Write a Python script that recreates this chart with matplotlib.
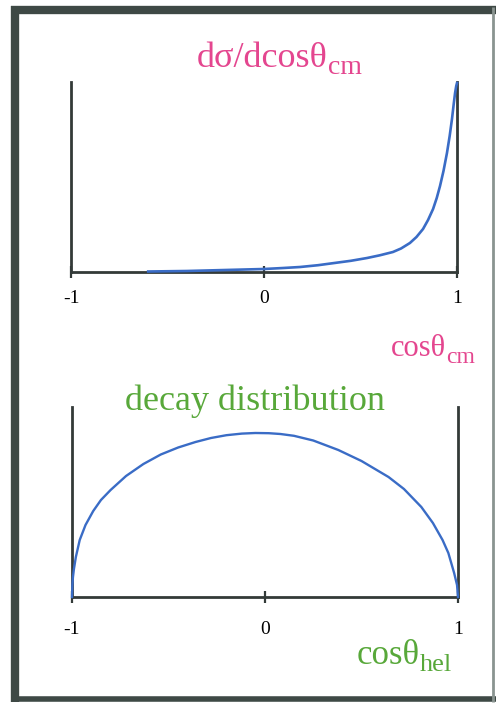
import matplotlib.pyplot as plt
from matplotlib.lines import Line2D

plt.rcParams['font.family'] = ['Liberation Serif', 'DejaVu Serif']

# production angle: forward peaked cross section (arbitrary units)
cm_x = [-0.6, -0.4, -0.2, 0.0, 0.1, 0.187, 0.28, 0.357, 0.45, 0.534, 0.60,
        0.668, 0.71, 0.756, 0.79, 0.824, 0.85, 0.876, 0.895, 0.912, 0.93,
        0.948, 0.962, 0.974, 0.983, 0.990, 0.996, 1.0]
cm_y = [0.5, 1.0, 2.0, 3.0, 4.0, 5.0, 6.8, 8.8, 11.2, 14.0, 16.7,
        20.0, 23.5, 29.0, 35.0, 43.0, 52.0, 63.0, 74.0, 86.0, 101.0,
        119.0, 136.0, 153.0, 168.0, 179.0, 186.0, 189.0]

# helicity angle: decay distribution (arbitrary units)
hel_x = [-1.0, -0.998, -0.995, -0.99, -0.98, -0.96, -0.93, -0.89, -0.85,
         -0.80, -0.72, -0.63, -0.54, -0.45, -0.36, -0.28, -0.20, -0.12,
         -0.05, 0.02, 0.08, 0.15, 0.25, 0.38, 0.50, 0.64, 0.72, 0.81, 0.87,
         0.92, 0.95, 0.98, 0.995, 1.0]
hel_y = [0.0, 12.0, 20.0, 28.0, 40.0, 57.0, 72.0, 86.0, 97.0,
         107.0, 121.0, 133.0, 142.5, 149.5, 155.0, 159.0, 161.8, 163.4,
         164.0, 163.8, 163.0, 161.2, 156.5, 147.0, 136.0, 120.0, 108.0,
         90.0, 74.0, 57.0, 44.0, 24.0, 12.0, 0.0]

ticks = [-1, 0, 1]
tick_labels = ['-1', '0', '1']

pink = '#e4468f'
green = '#58a83a'
blue = '#3a6cc6'
axis_col = '#333a38'

W, H = 499, 705
fig = plt.figure(figsize=(W / 100, H / 100), dpi=100)
fig.patch.set_facecolor('white')


def box(l, t, r, b):
    return [l / W, 1 - b / H, (r - l) / W, (b - t) / H]


def style_axes(ax, pad):
    ax.set_xlim(-1, 1)
    ax.set_ylim(0, 190)
    for side in ['left', 'right', 'bottom']:
        ax.spines[side].set_color(axis_col)
        ax.spines[side].set_linewidth(2)
    ax.spines['top'].set_visible(False)
    ax.set_yticks([])
    ax.set_xticks(ticks)
    ax.set_xticklabels(tick_labels, fontsize=14)
    ax.tick_params(axis='x', direction='inout', length=8, width=1.6,
                   color=axis_col, pad=pad)
    ax.patch.set_alpha(0)


ax1 = fig.add_axes(box(71, 82, 457, 272))
ax1.plot(cm_x, cm_y, color=blue, lw=1.9, clip_on=False, zorder=3)
style_axes(ax1, 9)

ax2 = fig.add_axes(box(72, 407, 458, 597))
ax2.plot(hel_x, hel_y, color=blue, lw=1.7, clip_on=False, zorder=3)
style_axes(ax2, 13)


def label(x, y, main, sub, color, size, subsize):
    # main symbol plus a lowered subscript placed right after it
    t = fig.text(x / W, 1 - y / H, main, color=color, fontsize=size,
                 ha='left', va='baseline')
    fig.canvas.draw()
    bb = t.get_window_extent()
    fig.text(bb.x1 / W, 1 - (y + 7) / H, sub, color=color,
             fontsize=subsize, ha='left', va='baseline')


label(197, 67, 'dσ/dcosθ', 'cm', pink, 26, 20)
label(391, 356, 'cosθ', 'cm', pink, 22, 17)
fig.text(255 / W, 1 - 410 / H, 'decay distribution', color=green,
         fontsize=26, ha='center', va='baseline')
label(357, 664, 'cosθ', 'hel', green, 25, 19)

# slide frame
frame = '#3e4945'
fig.add_artist(Line2D([15 / W, 15 / W], [1 - 6 / H, 1 - 702 / H],
                      color=frame, lw=6, solid_capstyle='butt'))
fig.add_artist(Line2D([11 / W, 496 / W], [1 - 10 / H, 1 - 10 / H],
                      color=frame, lw=6, solid_capstyle='butt'))
fig.add_artist(Line2D([11 / W, 496 / W], [1 - 699 / H, 1 - 699 / H],
                      color=frame, lw=4, solid_capstyle='butt'))
fig.add_artist(Line2D([493 / W, 493 / W], [1 - 7 / H, 1 - 702 / H],
                      color='#8a9490', lw=2, solid_capstyle='butt'))

fig.savefig('out.png', dpi=100)
